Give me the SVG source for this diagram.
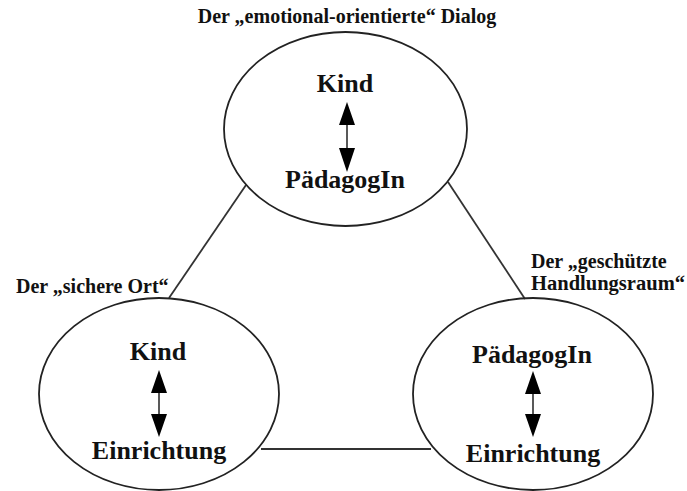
<svg xmlns="http://www.w3.org/2000/svg" width="687" height="491" viewBox="0 0 687 491">
<style>
.ell{fill:none;stroke:#222;stroke-width:1.8}
.con{stroke:#333;stroke-width:1.8;fill:none}
.arr{stroke:#222;stroke-width:1.5;fill:none}
.head{fill:#000}
text{font-family:"Liberation Serif","Times New Roman",serif;font-weight:bold;fill:#111}
.lbl{font-size:20px}
.nd{font-size:26px;text-anchor:middle}
</style>
<rect width="687" height="491" fill="#fff"/>
<g id="connectors">
<line class="con" x1="246" y1="185" x2="169" y2="298"/>
<line class="con" x1="448" y1="182" x2="525" y2="299"/>
<line class="con" x1="261" y1="449" x2="431" y2="449"/>
</g>
<g id="node-top">
<ellipse class="ell" cx="345.5" cy="129" rx="121.5" ry="97"/>
<text class="lbl" x="347" y="23" text-anchor="middle">Der „emotional-orientierte“ Dialog</text>
<text class="nd" x="345" y="92">Kind</text>
<line class="arr" x1="347" y1="120" x2="347" y2="152"/>
<polygon class="head" points="347,102 339,125 355,125"/>
<polygon class="head" points="347,172 339,148 355,148"/>
<text class="nd" x="345" y="188">PädagogIn</text>
</g>
<g id="node-left">
<ellipse class="ell" cx="159" cy="394" rx="120" ry="96"/>
<text class="lbl" x="16" y="293">Der „sichere Ort“</text>
<text class="nd" x="158" y="360">Kind</text>
<line class="arr" x1="159" y1="388" x2="159" y2="420"/>
<polygon class="head" points="159,370 151,393 167,393"/>
<polygon class="head" points="159,437 151,414 167,414"/>
<text class="nd" x="159" y="459">Einrichtung</text>
</g>
<g id="node-right">
<ellipse class="ell" cx="533" cy="394" rx="120" ry="96"/>
<text class="lbl" x="531" y="268">Der „geschützte</text>
<text class="lbl" x="531" y="290" textLength="154" lengthAdjust="spacingAndGlyphs">Handlungsraum“</text>
<text class="nd" x="532" y="363">PädagogIn</text>
<line class="arr" x1="533" y1="388" x2="533" y2="420"/>
<polygon class="head" points="533,371 525,394 541,394"/>
<polygon class="head" points="533,437 525,414 541,414"/>
<text class="nd" x="533" y="462">Einrichtung</text>
</g>
</svg>
